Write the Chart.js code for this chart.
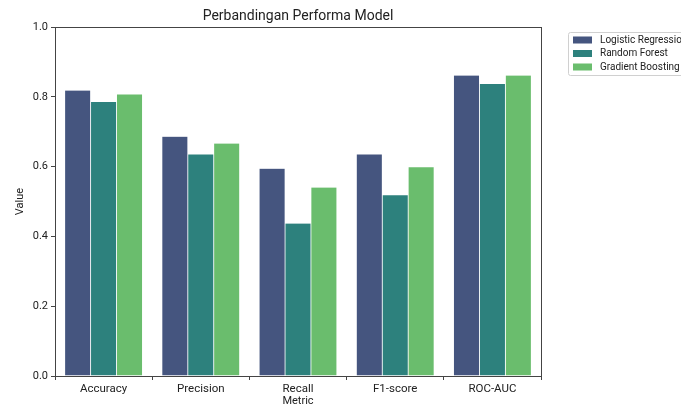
<!DOCTYPE html>
<html>
<head>
<meta charset="utf-8">
<script src="https://cdn.jsdelivr.net/npm/chart.js@4"></script>
<style>
    html, body { margin: 0; padding: 0; background: #fff; }
    #wrap { width: 681px; height: 405px; }
</style>
</head>
<body>
<div id="wrap"><canvas id="chart" width="681" height="405"></canvas></div>
<script>
const metrics = ['Accuracy', 'Precision', 'Recall', 'F1-score', 'ROC-AUC'];
const models = ['Logistic Regression', 'Random Forest', 'Gradient Boosting'];
const logReg = [0.819, 0.687, 0.595, 0.636, 0.862];
const randForest = [0.786, 0.636, 0.438, 0.519, 0.838];
const gradBoost = [0.808, 0.667, 0.541, 0.599, 0.862];
const yTicks = [0.0, 0.2, 0.4, 0.6, 0.8, 1.0];
const colors = ['#45557f', '#2d817d', '#6abd6d'];

const FONT = 'Roboto, "DejaVu Sans", sans-serif';

// titles + full axis box + legend, drawn the matplotlib way
const decor = {
    id: 'decor',
    afterDraw(chart) {
        const { ctx, chartArea: a } = chart;
        ctx.save();
        ctx.strokeStyle = '#444';
        ctx.lineWidth = 1;
        ctx.strokeRect(a.left + 0.5, a.top + 0.5, a.right - a.left, a.bottom - a.top);

        ctx.fillStyle = '#222';
        ctx.textAlign = 'center';
        ctx.textBaseline = 'middle';
        ctx.font = '14px ' + FONT;
        ctx.fillText('Perbandingan Performa Model', (a.left + a.right) / 2, 16);
        ctx.font = '11px ' + FONT;
        ctx.fillText('Metric', (a.left + a.right) / 2, 401);
        ctx.save();
        ctx.translate(20, (a.top + a.bottom) / 2);
        ctx.rotate(-Math.PI / 2);
        ctx.fillText('Value', 0, 0);
        ctx.restore();

        // legend
        const lx = 568, ly = 32;
        ctx.strokeStyle = '#d0d0d0';
        ctx.fillStyle = '#fff';
        ctx.beginPath();
        ctx.roundRect(lx + 0.5, ly + 0.5, 130, 43, 2);
        ctx.fill();
        ctx.stroke();
        ctx.font = '10px ' + FONT;
        ctx.textAlign = 'left';
        chart.data.datasets.forEach((ds, i) => {
            const y = ly + 8 + i * 13.5;
            ctx.fillStyle = ds.backgroundColor;
            ctx.fillRect(lx + 5, y - 3.5, 19, 7);
            ctx.fillStyle = '#222';
            ctx.fillText(ds.label, lx + 32, y);
        });
        ctx.restore();
    },
};

const datasets = [logReg, randForest, gradBoost].map((vals, i) => ({
    label: models[i],
    data: vals,
    backgroundColor: colors[i],
    borderColor: 'rgba(255,255,255,0.3)',
    borderWidth: 0.4,
    categoryPercentage: 0.8,
    barPercentage: 1.0,
}));

new Chart(document.getElementById('chart'), {
    type: 'bar',
    data: { labels: metrics, datasets },
    options: {
        responsive: false,
        animation: false,
        layout: { padding: { left: 0, right: 140, top: 27, bottom: 0 } },
        plugins: { legend: { display: false }, tooltip: { enabled: false } },
        scales: {
            x: {
                grid: { drawOnChartArea: false, tickLength: 4, color: '#444' },
                border: { display: false },
                ticks: { color: '#222', font: { family: FONT, size: 11.5 }, padding: 2 },
                afterFit: (s) => { s.height = 29; },
            },
            y: {
                min: 0, max: 1,
                afterBuildTicks: (s) => { s.ticks = yTicks.map((v) => ({ value: v })); },
                grid: { drawOnChartArea: false, tickLength: 4, color: '#444' },
                border: { display: false },
                ticks: { color: '#222', font: { family: FONT, size: 11 }, padding: 3, callback: (v) => v.toFixed(1) },
                afterFit: (s) => { s.width = 55; },
            },
        },
    },
    plugins: [decor],
});
</script>
</body>
</html>
